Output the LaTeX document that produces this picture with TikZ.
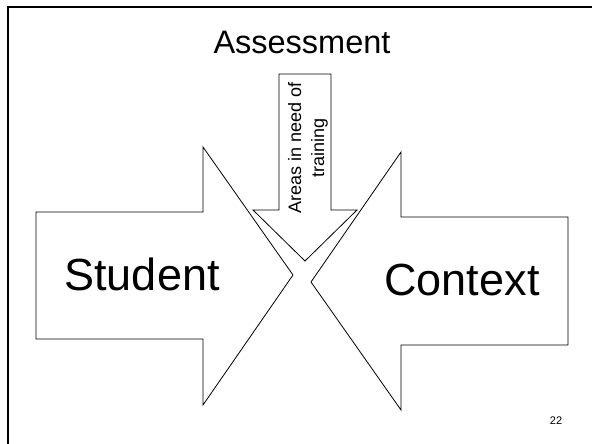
\documentclass[tikz,border=0pt]{standalone}
\usepackage{fontspec}
\setmainfont{Liberation Sans}
\usetikzlibrary{calc}

\begin{document}
\begin{tikzpicture}[x=1pt, y=-1pt, line width=0.8pt,
        bigtext/.style={font=\fontsize{45}{54}\selectfont, anchor=base},
        blockarrow/.style={draw, line join=miter}]
            \useasboundingbox (0,0) rectangle (592,444);

            % slide frame
            \draw[line width=2pt] (8,444) -- (8,7) -- (592,7);

            % the three block arrows
            \draw[blockarrow] (36,212) -- (203,212) -- (203,147) -- (293,275)
                -- (203,405) -- (203,339) -- (36,339) -- cycle;
            \draw[blockarrow] (568,217) -- (401,217) -- (401,152) -- (311,282)
                -- (401,410) -- (401,345) -- (568,345) -- cycle;
            \draw[blockarrow] (279,74) -- (331,74) -- (331,210) -- (357,210)
                -- (305,261) -- (253,210) -- (279,210) -- cycle;

            \node[bigtext] (student) at (142,290) {Student};
            \node[bigtext] (context) at (462,295) {Context};
            \node[font=\fontsize{32.5}{39}\selectfont, anchor=base] (assess) at (302,54) {Assessment};
            \node[rotate=90, align=center, font=\fontsize{18}{23}\selectfont] (areas) at (308,148)
                {Areas in need of\\training};

            \node[font=\fontsize{11}{13}\selectfont, anchor=base] (page) at (556,424) {22};
        \end{tikzpicture}
\end{document}
